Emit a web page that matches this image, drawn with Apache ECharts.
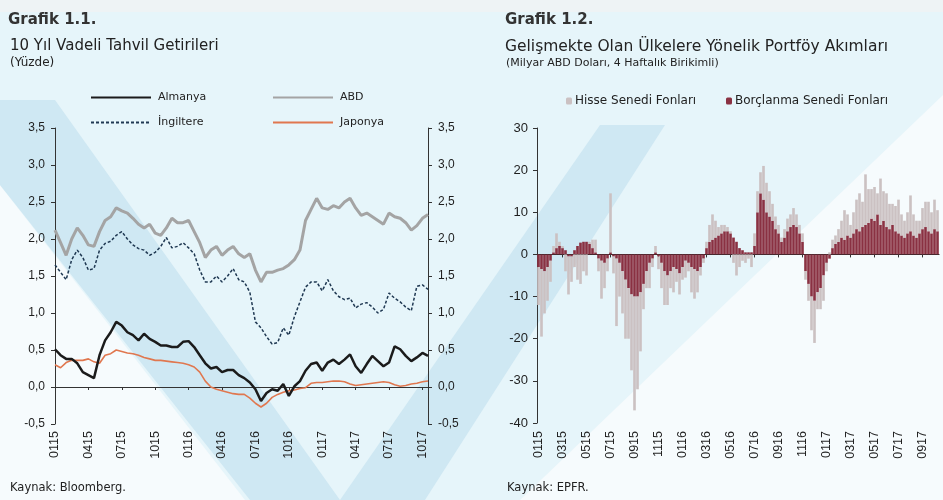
<!DOCTYPE html>
<html>
<head>
<meta charset="utf-8">
<script src="https://cdn.jsdelivr.net/npm/echarts@6/dist/echarts.min.js"></script>
<style>
  html, body { margin: 0; padding: 0; }
  #chart { width: 943px; height: 500px; }
</style>
</head>
<body>
<div id="chart"></div>
<script>
// Grafik 1.1 - 10 yıl vadeli tahvil getirileri, yarım aylık (0115 - 1017)
var almanya = [0.51,0.43,0.38,0.38,0.32,0.20,0.16,0.12,0.43,0.63,
  0.74,0.88,0.83,0.74,0.70,0.63,0.72,0.65,0.61,0.56,
  0.56,0.54,0.54,0.61,0.62,0.54,0.43,0.32,0.25,0.27,
  0.20,0.23,0.23,0.16,0.12,0.06,-0.03,-0.19,-0.08,-0.03,
  -0.05,0.04,-0.12,0.01,0.08,0.22,0.31,0.33,0.22,0.33,
  0.37,0.31,0.37,0.44,0.28,0.19,0.31,0.42,0.35,0.28,
  0.33,0.55,0.51,0.42,0.35,0.40,0.46,0.42];
var abd = [2.12,1.95,1.78,2.0,2.15,2.05,1.92,1.9,2.1,2.25,
  2.3,2.42,2.38,2.35,2.28,2.2,2.15,2.2,2.08,2.05,
  2.15,2.28,2.22,2.22,2.25,2.1,1.95,1.75,1.85,1.9,
  1.78,1.85,1.9,1.8,1.75,1.8,1.58,1.42,1.55,1.55,
  1.58,1.6,1.65,1.72,1.85,2.25,2.4,2.55,2.42,2.4,
  2.45,2.42,2.5,2.55,2.42,2.32,2.35,2.3,2.25,2.2,
  2.35,2.3,2.28,2.22,2.12,2.18,2.28,2.33];
var ingiltere = [1.65,1.55,1.45,1.72,1.85,1.75,1.58,1.6,1.85,1.94,
  1.97,2.05,2.1,2.0,1.92,1.87,1.85,1.78,1.82,1.9,
  2.02,1.88,1.9,1.95,1.88,1.8,1.58,1.42,1.42,1.5,
  1.42,1.5,1.6,1.45,1.42,1.28,0.88,0.8,0.68,0.58,
  0.6,0.8,0.7,0.95,1.15,1.35,1.42,1.42,1.3,1.45,
  1.3,1.22,1.18,1.2,1.07,1.12,1.14,1.08,1.0,1.05,
  1.27,1.2,1.15,1.08,1.03,1.36,1.38,1.32];
var japonya = [0.3,0.26,0.33,0.36,0.36,0.36,0.38,0.34,0.32,0.43,
  0.45,0.5,0.48,0.46,0.45,0.43,0.4,0.38,0.36,0.36,
  0.35,0.34,0.33,0.32,0.3,0.27,0.2,0.08,0.0,-0.03,
  -0.05,-0.07,-0.09,-0.1,-0.1,-0.15,-0.22,-0.27,-0.22,-0.14,
  -0.1,-0.07,-0.05,-0.04,-0.02,-0.01,0.05,0.06,0.06,0.07,
  0.08,0.08,0.07,0.04,0.02,0.03,0.04,0.05,0.06,0.07,
  0.06,0.03,0.01,0.02,0.04,0.05,0.07,0.08];
var lineTickLabels = ['0115','0415','0715','1015','0116','0416','0716','1016','0117','0417','0717','1017'];

// Grafik 1.2 - portföy akımları, haftalık (milyar ABD doları)
var borclanma = [-3,-3.5,-4,-3,-1.5,0.5,1.5,2,1.5,1,
  -0.5,-0.5,1,2,2.8,3,3,2.5,1.5,0.5,
  -1,-1.5,-2,-1,0.5,-0.5,-1,-2,-4,-6,
  -8,-9.5,-10,-10,-9,-7,-4,-2,-1,0.5,
  -0.5,-2,-4,-5,-4,-3,-3.5,-4.5,-3,-1.5,
  -2,-3,-3.5,-4,-3,-1,1.5,3,3.5,4,
  4.5,5,5.5,5.5,5,4,3,1.5,1,0.5,
  0.5,0.5,2,10,14.5,13,10,9,8,6,
  5,3,4,5.5,6.5,7,6.5,5,3,-4,
  -7,-10,-11,-9,-8,-5,-2,-1,1.5,2.5,
  3,4,3.5,4.5,4,5,6,5.5,6.5,7,
  7.5,8.5,8,9.5,7,8,6.5,6,7,5.5,
  5,4.5,4,5,5.5,4.5,4,5,6,6.5,
  5.5,5,6,5.5];
var hisse = [-9,-16,-10,-8,-5,1.5,3.5,1,0.5,-4,
  -9,-6,-3,-6,-7,-4,-5,0.5,2,3,
  -3,-9,-6,-3,14,-4,-16,-8,-10,-14,
  -12,-18,-27,-22,-14,-6,-4,-6,-2,1.5,
  -3,-6,-8,-7,-4,-6,-3,-5,-3,-4,
  -2,-6,-7,-5,-2,-1,1.5,4,6,4,
  2,2,1.5,1,0.5,-2,-5,-3,-1.5,-2,
  -1,-3,3,5,5,8,7,6,4,3,
  2,1,2,3,3,4,3,2,2,-2,
  -4,-8,-10,-4,-5,-6,-2,0.5,2,2,
  3,4,7,5,3,5,7,9,6,12,
  8,7,8,5,11,7,8,6,5,6,
  8,5,4,5,8.5,5,4,3,5,6,
  7,5,7,5];
var barTickLabels = ['0115','0315','0515','0715','0915','1115','0116','0316','0516','0716','0916','1116','0117','0317','0517','0717','0917'];

var lineCats = [];
var barCats = [];
['15','16','17'].forEach(function (y) {
  for (var m = 1; m <= 12; m++) {
    var mm = (m < 10 ? '0' : '') + m + y;
    ['a','b'].forEach(function (h) { if (lineCats.length < almanya.length) lineCats.push(mm + h); });
    [1,2,3,4].forEach(function (w) { if (barCats.length < hisse.length) barCats.push(mm + '-' + w); });
  }
});

var txt = '#222';
var fontF = 'DejaVu Sans';
var tick = { fontSize: 12, color: '#1e1e1e', fontFamily: 'Liberation Sans' };

var chart = echarts.init(document.getElementById('chart'));

function legendAt(name, left, top, w, h, size, isLine) {
  var l = {
    data: [name], left: left, top: top, itemWidth: w, itemHeight: h, itemGap: 0,
    padding: 0,
    textStyle: { fontSize: size, color: txt, fontFamily: fontF, padding: isLine ? [0, 0, 0, 2] : [0, 0, 0, -2] }
  };
  if (isLine) l.itemStyle = { opacity: 0 };
  return l;
}

var lineYAxis = function (pos) {
  return {
    gridIndex: 0, type: 'value', position: pos, min: -0.5, max: 3.5, interval: 0.5,
    splitLine: { show: false },
    axisLine: { show: true, lineStyle: { color: '#333', width: 1 } },
    axisTick: { show: true, length: 4, lineStyle: { color: '#333' } },
    axisLabel: Object.assign({ margin: 10, formatter: function (v) { return v.toFixed(1).replace('.', ','); } }, tick)
  };
};

var option = {
  backgroundColor: '#e6f5fa',
  animation: false,
  graphic: [
    { type: 'polygon', z: -10, shape: { points: [[0, 0], [943, 0], [943, 12], [0, 12]] }, style: { fill: '#eef3f5' } },
    { type: 'polygon', z: -10, shape: { points: [[520, 500], [943, 95], [943, 500]] }, style: { fill: '#f6fbfd' } },
    { type: 'polygon', z: -10, shape: { points: [[0, 185], [0, 500], [245, 500]] }, style: { fill: '#f6fbfd' } },
    { type: 'polygon', z: -9, shape: { points: [[0, 100], [55, 100], [340, 500], [250, 500], [0, 185]] }, style: { fill: '#cfe8f3' } },
    { type: 'polygon', z: -9, shape: { points: [[340, 500], [600, 125], [665, 125], [425, 500]] }, style: { fill: '#cfe8f3' } }
  ],
  title: [
    { text: 'Grafik 1.1.', left: 8, top: 13, padding: 0, textStyle: { fontSize: 15, fontWeight: 'bold', color: '#333', fontFamily: fontF } },
    { text: '10 Yıl Vadeli Tahvil Getirileri', left: 10, top: 39, padding: 0, textStyle: { fontSize: 15, fontWeight: 'normal', color: txt, fontFamily: fontF } },
    { text: '(Yüzde)', left: 10, top: 57, padding: 0, textStyle: { fontSize: 12, fontWeight: 'normal', color: txt, fontFamily: fontF } },
    { text: 'Kaynak: Bloomberg.', left: 10, top: 482, padding: 0, textStyle: { fontSize: 11.5, fontWeight: 'normal', color: txt, fontFamily: fontF } },
    { text: 'Grafik 1.2.', left: 505, top: 13, padding: 0, textStyle: { fontSize: 15, fontWeight: 'bold', color: '#333', fontFamily: fontF } },
    { text: 'Gelişmekte Olan Ülkelere Yönelik Portföy Akımları', left: 505, top: 39, padding: 0, textStyle: { fontSize: 15.5, fontWeight: 'normal', color: txt, fontFamily: fontF } },
    { text: '(Milyar ABD Doları, 4 Haftalık Birikimli)', left: 506, top: 58, padding: 0, textStyle: { fontSize: 11, fontWeight: 'normal', color: txt, fontFamily: fontF } },
    { text: 'Kaynak: EPFR.', left: 507, top: 482, padding: 0, textStyle: { fontSize: 11.5, fontWeight: 'normal', color: txt, fontFamily: fontF } }
  ],
  legend: [
    legendAt('Almanya', 90, 92, 60, 8, 11, true),
    legendAt('ABD', 272, 92, 60, 8, 11, true),
    legendAt('İngiltere', 90, 117, 60, 8, 11, true),
    legendAt('Japonya', 272, 117, 60, 8, 11, true),
    legendAt('Hisse Senedi Fonları', 566, 95, 6, 7, 12, false),
    legendAt('Borçlanma Senedi Fonları', 726, 95, 6, 7, 12, false)
  ],
  grid: [
    { left: 55, top: 128, width: 373, height: 296, outerBoundsMode: 'none' },
    { left: 537, top: 128, width: 402, height: 295, outerBoundsMode: 'none' }
  ],
  xAxis: [
    {
      gridIndex: 0, type: 'category', data: lineCats, boundaryGap: false, position: 'bottom',
      axisLine: { show: false, onZero: false }, axisTick: { show: false }, splitLine: { show: false },
      axisLabel: Object.assign({
        rotate: 90, margin: 7,
        interval: function (i) { return i % 6 === 0; },
        formatter: function (v, i) { return lineTickLabels[i / 6]; }
      }, tick, { fontSize: 12.5 })
    },
    {
      gridIndex: 0, type: 'category', data: lineCats, boundaryGap: false, position: 'top',
      axisLine: { show: true, onZero: true, lineStyle: { color: '#333', width: 1 } },
      axisTick: { show: true, inside: true, length: 3, interval: function (i) { return i % 6 === 0; }, lineStyle: { color: '#333' } },
      axisLabel: { show: false }, splitLine: { show: false }
    },
    {
      gridIndex: 1, type: 'category', data: barCats, position: 'bottom',
      axisLine: { show: false, onZero: false }, axisTick: { show: false }, splitLine: { show: false },
      axisLabel: Object.assign({
        rotate: 90, margin: 8,
        interval: function (i) { return i % 8 === 0; },
        formatter: function (v, i) { return barTickLabels[i / 8]; }
      }, tick, { fontSize: 12.5 })
    },
    {
      gridIndex: 1, type: 'category', data: barCats, position: 'top',
      axisLine: { show: true, onZero: true, lineStyle: { color: '#222', width: 1.2 } },
      axisTick: { show: true, inside: true, length: 3, alignWithLabel: true, interval: function (i) { return i % 8 === 0; }, lineStyle: { color: '#333' } },
      axisLabel: { show: false }, splitLine: { show: false }
    }
  ],
  yAxis: [
    lineYAxis('left'),
    lineYAxis('right'),
    {
      gridIndex: 1, type: 'value', min: -40, max: 30, interval: 10,
      splitLine: { show: false },
      axisLine: { show: true, lineStyle: { color: '#333', width: 1 } },
      axisTick: { show: true, length: 4, lineStyle: { color: '#333' } },
      axisLabel: Object.assign({ margin: 9 }, tick, { fontSize: 13 })
    }
  ],
  series: [
    { name: 'ABD', type: 'line', xAxisIndex: 0, yAxisIndex: 0, data: abd, symbol: 'none',
      lineStyle: { color: '#a4a4a4', width: 3 }, itemStyle: { color: '#a4a4a4' } },
    { name: 'İngiltere', type: 'line', xAxisIndex: 0, yAxisIndex: 0, data: ingiltere, symbol: 'none',
      lineStyle: { color: '#1f3852', width: 1.5, type: [3, 2] }, itemStyle: { color: '#1f3852' } },
    { name: 'Japonya', type: 'line', xAxisIndex: 0, yAxisIndex: 0, data: japonya, symbol: 'none',
      lineStyle: { color: '#e0774f', width: 1.6 }, itemStyle: { color: '#e0774f' } },
    { name: 'Almanya', type: 'line', xAxisIndex: 0, yAxisIndex: 0, data: almanya, symbol: 'none',
      lineStyle: { color: '#1b1b1b', width: 2.5 }, itemStyle: { color: '#1b1b1b' } },
    { name: 'Borçlanma Senedi Fonları', type: 'bar', xAxisIndex: 2, yAxisIndex: 2, stack: 'akim',
      data: borclanma, barCategoryGap: '12%', itemStyle: { color: '#8a3142' } },
    { name: 'Hisse Senedi Fonları', type: 'bar', xAxisIndex: 2, yAxisIndex: 2, stack: 'akim',
      data: hisse, barCategoryGap: '12%', itemStyle: { color: '#cbc1c2' } }
  ]
};

chart.setOption(option);
window.addEventListener('resize', function () {
  chart.resize();
});
</script>
</body>
</html>
